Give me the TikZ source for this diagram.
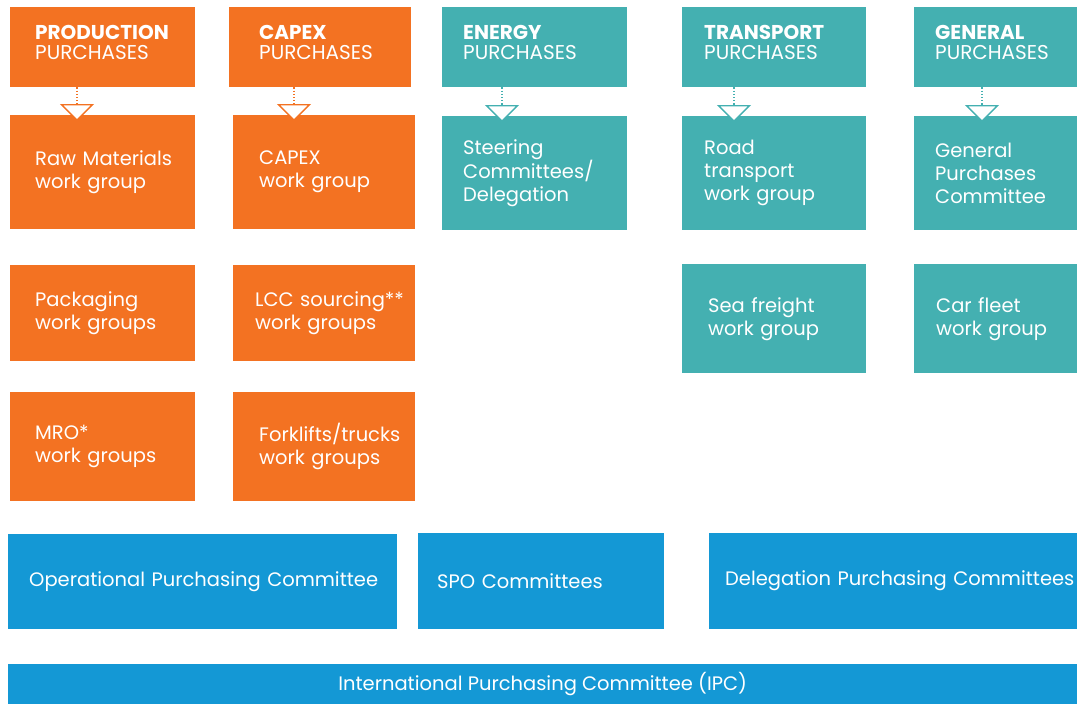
\documentclass[tikz,border=0pt]{standalone}
\usepackage{fontspec}
\setmainfont{Poppins}
\usepackage{xcolor}
\usetikzlibrary{arrows.meta}

\definecolor{prodorange}{HTML}{F37222}
\definecolor{purchteal}{HTML}{44B0B1}
\definecolor{comblue}{HTML}{1498D5}

\begin{document}
\begin{tikzpicture}[
    x=1pt, y=-1pt,
    cell/.style={anchor=north west, fill=#1, text=white, inner ysep=0pt, align=left,
        font=\fontsize{19.5}{23}\selectfont},
    head/.style={cell=#1, minimum height=80pt, text depth=30pt, font=\fontsize{20}{20}\selectfont},
    link/.style={draw=#1, line width=1.2pt, dash pattern=on 1.2pt off 2pt,
        -{Triangle[open, length=17pt, width=34pt, fill=white, line width=1.4pt]}}
]
\useasboundingbox (0,0) rectangle (1077,704);

% --- PRODUCTION / CAPEX ---
\node[head=prodorange, minimum width=185pt, inner xsep=25pt, text width=135pt] (prod) at (10,7) {\textbf{PRODUCTION}\\PURCHASES};
\node[head=prodorange, minimum width=182pt, inner xsep=30pt, text width=122pt] (capex) at (229,7) {\textbf{CAPEX}\\PURCHASES};

\node[cell=prodorange, minimum width=185pt, minimum height=114pt, inner xsep=25pt, text width=135pt] (raw) at (10,115) {\mbox{Raw Materials}\\work group};
\node[cell=prodorange, minimum width=182pt, minimum height=114pt, inner xsep=26pt, text width=130pt] (capexwg) at (233,115) {CAPEX\\work group};
\node[cell=prodorange, minimum width=185pt, minimum height=96pt, inner xsep=25pt, text width=135pt] (pack) at (10,265) {Packaging\\work groups};
\node[cell=prodorange, minimum width=182pt, minimum height=96pt, inner xsep=22pt, text width=138pt] (lcc) at (233,265) {\mbox{LCC sourcing**}\\work groups};
\node[cell=prodorange, minimum width=185pt, minimum height=109pt, inner xsep=25pt, text width=135pt] (mro) at (10,392) {MRO*\\work groups};
\node[cell=prodorange, minimum width=182pt, minimum height=109pt, inner xsep=26pt, text width=130pt] (fork) at (233,392) {\mbox{Forklifts/trucks}\\work groups};

% --- ENERGY / TRANSPORT / GENERAL ---
\node[head=purchteal, minimum width=185pt, inner xsep=21pt, text width=143pt] (energy) at (442,7) {\textbf{ENERGY}\\PURCHASES};
\node[head=purchteal, minimum width=184pt, inner xsep=22pt, text width=140pt] (transp) at (682,7) {\textbf{TRANSPORT}\\PURCHASES};
\node[head=purchteal, minimum width=163pt, inner xsep=21pt, text width=121pt] (general) at (914,7) {\textbf{GENERAL}\\PURCHASES};

\node[cell=purchteal, minimum width=185pt, minimum height=114pt, inner xsep=21pt, text width=143pt] (steer) at (442,116) {Steering\\Committees/\\Delegation};
\node[cell=purchteal, minimum width=184pt, minimum height=114pt, inner xsep=22pt, text width=140pt] (road) at (682,116) {Road\\transport\\work group};
\node[cell=purchteal, minimum width=163pt, minimum height=114pt, inner xsep=21pt, text width=121pt] (genpc) at (914,116) {General\\Purchases\\Committee};
\node[cell=purchteal, minimum width=184pt, minimum height=109pt, inner xsep=26pt, text width=132pt] (sea) at (682,264) {Sea freight\\work group};
\node[cell=purchteal, minimum width=163pt, minimum height=109pt, inner xsep=22pt, text width=119pt] (car) at (914,264) {Car fleet\\work group};

% --- COMMITTEES ---
\node[cell=comblue, minimum width=389pt, minimum height=95pt, inner xsep=21pt, text width=347pt] (opc) at (8,534) {\mbox{Operational Purchasing Committee}};
\node[cell=comblue, minimum width=246pt, minimum height=96pt, inner xsep=19pt, text width=208pt] (spo) at (418,533) {SPO Committees};
\node[cell=comblue, minimum width=368pt, minimum height=96pt, inner xsep=16pt, text width=336pt] (deleg) at (709,533) {\mbox{Delegation Purchasing Committees}};
\node[cell=comblue, minimum width=1069pt, minimum height=40pt, align=center] (ipc) at (8,664) {International Purchasing Committee (IPC)};

% --- LINKS ---
\coordinate (tprod) at (77,121);
\coordinate (tcapex) at (294,121);
\coordinate (tenergy) at (502,122);
\coordinate (ttransp) at (734,122);
\coordinate (tgeneral) at (982,122);
\draw[link=prodorange] (prod.south -| tprod) -- (tprod);
\draw[link=prodorange] (capex.south -| tcapex) -- (tcapex);
\draw[link=purchteal] (energy.south -| tenergy) -- (tenergy);
\draw[link=purchteal] (transp.south -| ttransp) -- (ttransp);
\draw[link=purchteal] (general.south -| tgeneral) -- (tgeneral);
\end{tikzpicture}
\end{document}
